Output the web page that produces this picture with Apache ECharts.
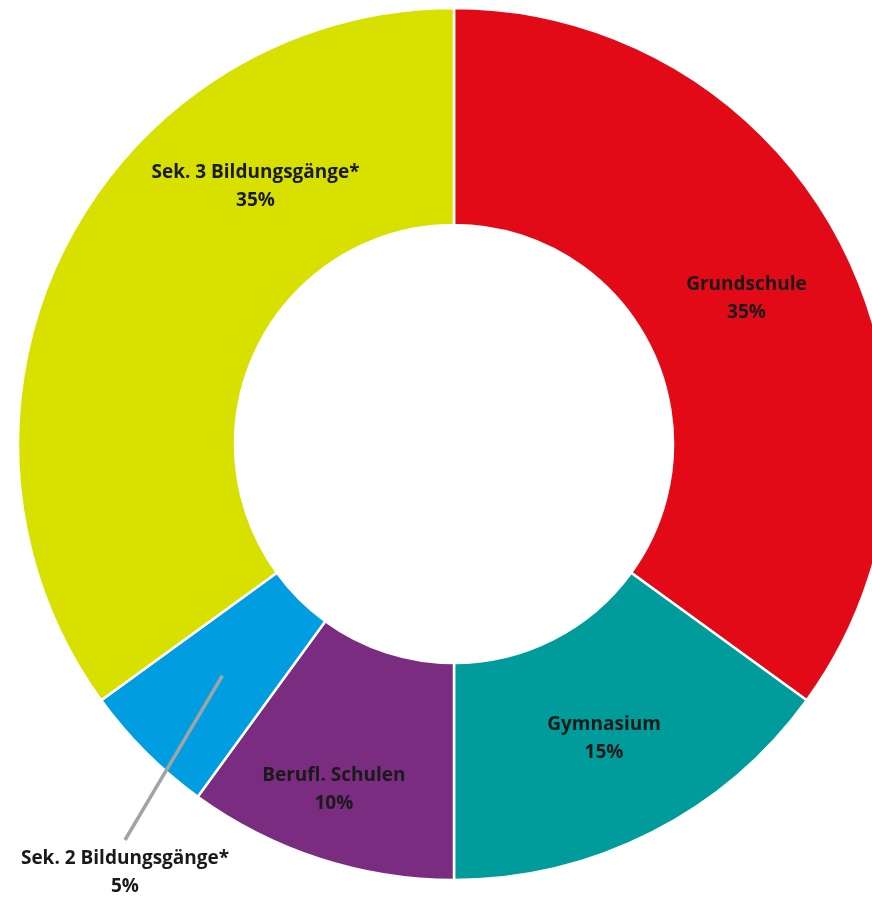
<!DOCTYPE html>
<html>
<head>
<meta charset="utf-8">
<script src="https://cdn.jsdelivr.net/npm/echarts@6/dist/echarts.min.js"></script>
<style>
html,body{margin:0;padding:0;background:#fff;}
#chart{width:872px;height:897px;}
</style>
</head>
<body>
<div id="chart"></div>
<script>
const categories = ['Grundschule', 'Gymnasium', 'Berufl. Schulen', 'Sek. 2 Bildungsgänge*', 'Sek. 3 Bildungsgänge*'];
const values = [35, 15, 10, 5, 35];
const colors = ['#E20A17', '#009C9B', '#7A2C81', '#009EE0', '#D8E000'];

const chart = echarts.init(document.getElementById('chart'));
const labelFont = { fontFamily: 'Open Sans', fontWeight: 'bold', fontSize: 19, color: '#1a1a1a', lineHeight: 28 };
const offsets = [[-2, 5], [0, 0], [-18, 31], [0, 0], [96, -107]];
const CX = 454, CY = 444, R0 = 219, R1 = 436;

const data = categories.map((c, i) => {
  const item = {
    name: c,
    value: values[i],
    itemStyle: { color: colors[i] },
    label: Object.assign({ position: 'inside', offset: offsets[i] }, labelFont)
  };
  if (i === 3) {
    item.label = Object.assign({ position: 'outside' }, labelFont);
  }
  return item;
});

// leader line for the small slice: from mid-radius of the slice to the label
const total = values.reduce((a, b) => a + b, 0);
const before = values.slice(0, 3).reduce((a, b) => a + b, 0);
const midDeg = (before + values[3] / 2) / total * 360; // clockwise from top
const rMid = (R0 + R1) / 2;
const lx0 = CX + rMid * Math.sin(midDeg * Math.PI / 180);
const ly0 = CY - rMid * Math.cos(midDeg * Math.PI / 180);
const labelX = 125, labelY = 873;

chart.setOption({
  animation: false,
  graphic: [{
    type: 'line',
    z: 100,
    shape: { x1: lx0, y1: ly0, x2: labelX, y2: labelY - 33 },
    style: { stroke: '#A3A3A3', lineWidth: 3.5 }
  }],
  series: [{
    type: 'pie',
    center: [CX, CY],
    radius: [R0, R1],
    startAngle: 90,
    clockwise: true,
    avoidLabelOverlap: false,
    itemStyle: { borderColor: '#ffffff', borderWidth: 2.5 },
    label: {
      show: true,
      formatter: p => p.name + '\n' + p.value + '%'
    },
    labelLine: { show: false },
    labelLayout: function (params) {
      if (params.dataIndex === 3) {
        return { x: labelX, y: labelY, align: 'center', verticalAlign: 'middle' };
      }
      return {};
    },
    data: data
  }]
});
</script>
</body>
</html>
